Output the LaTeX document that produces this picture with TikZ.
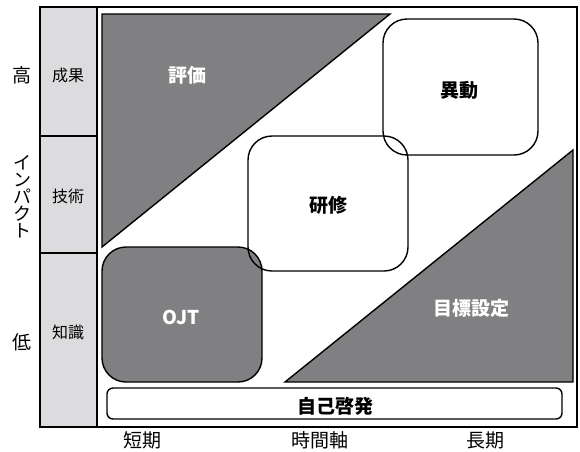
\documentclass[tikz,border=0pt]{standalone}
\usepackage{fontspec}
\setmainfont{Noto Sans CJK JP}
\definecolor{shade}{HTML}{808083}
\definecolor{colshade}{HTML}{DCDCDE}
\begin{document}
\begin{tikzpicture}[x=1pt,y=-1pt,line width=1.4pt,
        darkpart/.style={fill=shade,draw=black},
        roundbox/.style={rounded corners=24pt},
        intext/.style={font=\fontsize{19}{19}\selectfont\bfseries},
        sidetext/.style={font=\fontsize{16}{16}\selectfont},
        axistext/.style={font=\fontsize{19}{19}\selectfont}]
        \useasboundingbox (0,0) rectangle (580,451);
        \draw[fill=colshade] (40,7) rectangle (97,427);
        \draw (40,136) -- (97,136) (40,253) -- (97,253);
        \draw (40,7) rectangle (577,427);
        \draw[darkpart] (102,14) -- (390,14) -- (102,247) -- cycle;
        \draw[darkpart] (285,382) -- (573,150) -- (573,382) -- cycle;
        \draw[darkpart,roundbox] (102,247) rectangle (262,382);
        \draw[roundbox] (248,136) rectangle (408,271);
        \draw[roundbox] (383,19) rectangle (538,155);
        \draw[rounded corners=6pt] (107,388) rectangle (562,419);
        \node[intext,text=white] (eval) at (187,75) {評価};
        \node[intext] (move) at (459,90) {異動};
        \node[intext] (train) at (328,205) {研修};
        \node[intext,text=white] (ojt) at (181,317) {OJT};
        \node[intext,text=white] (goal) at (471,308) {目標設定};
        \node[intext] (self) at (335,406) {自己啓発};
        \node[sidetext] (result) at (68,75) {成果};
        \node[sidetext] (skill) at (68,196) {技術};
        \node[sidetext] (know) at (68,332) {知識};
        \node[axistext] (high) at (22,75) {高};
        \node[axistext] (low) at (22,342) {低};
        \node[axistext,align=center,font=\fontsize{18}{17}\selectfont] (impact) at (22,197) {イ\\ン\\パ\\ク\\ト};
        \node[axistext] (short) at (142,440) {短期};
        \node[axistext] (time) at (320,440) {時間軸};
        \node[axistext] (long) at (485,440) {長期};
    \end{tikzpicture}
\end{document}
